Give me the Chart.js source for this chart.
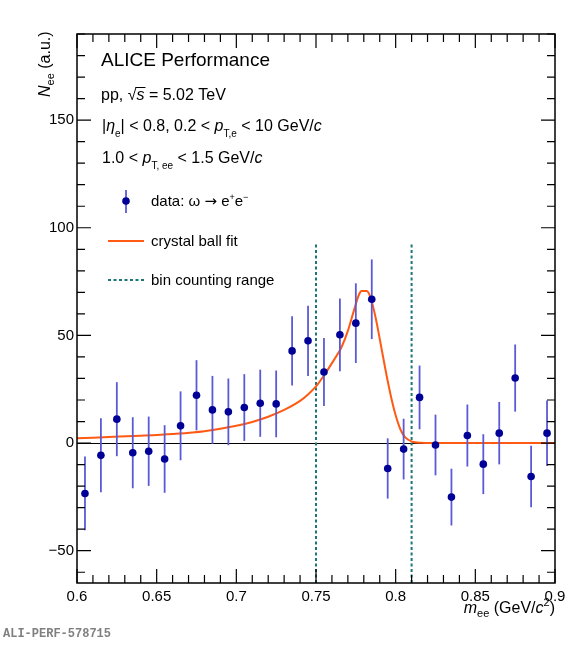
<!DOCTYPE html>
<html>
<head>
<meta charset="utf-8">
<script src="https://cdn.jsdelivr.net/npm/chart.js@4.4.1/dist/chart.umd.min.js"></script>
<style>
  html, body { margin: 0; padding: 0; background: #fff; }
  #c { display: block; }
</style>
</head>
<body>
<canvas id="c" width="586" height="650"></canvas>
<script>
// Chart.js comes from the CDN as the global `Chart`.

// ---- data ----
const binCenters = [0.605, 0.615, 0.625, 0.635, 0.645, 0.655, 0.665, 0.675, 0.685, 0.695,
                    0.705, 0.715, 0.725, 0.735, 0.745, 0.755, 0.765, 0.775, 0.785, 0.795,
                    0.805, 0.815, 0.825, 0.835, 0.845, 0.855, 0.865, 0.875, 0.885, 0.895];
const counts = [-23.4, -5.7, 11.1, -4.5, -3.8, -7.4, 8.0, 22.2, 15.4, 14.5,
                16.5, 18.5, 18.2, 42.8, 47.5, 33.0, 50.3, 55.7, 66.8, -11.8,
                -2.8, 21.2, -0.9, -25.1, 3.5, -9.8, 4.6, 30.2, -15.5, 4.6];
const errors = [17.1, 17.2, 17.2, 16.5, 16.1, 15.7, 16.0, 16.3, 15.8, 15.5,
                15.5, 15.6, 15.5, 16.1, 16.3, 15.8, 16.9, 18.5, 18.5, 14.0,
                14.1, 14.8, 14.1, 13.2, 14.4, 13.9, 14.5, 15.6, 14.3, 15.2];

// crystal ball fit, sampled from the drawn curve
const fitX = [0.600, 0.620, 0.640, 0.660, 0.680, 0.700, 0.710, 0.720, 0.730, 0.740,
              0.745, 0.750, 0.755, 0.761, 0.766, 0.770, 0.774, 0.777, 0.7786, 0.7818,
              0.7843, 0.7874, 0.7906, 0.7937, 0.7969, 0.800, 0.803, 0.806, 0.8105, 0.816,
              0.822, 0.900];
const fitY = [2.2, 2.8, 3.4, 4.2, 5.5, 8.0, 9.8, 12.2, 15.4, 19.6,
              22.6, 26.3, 31.4, 38.3, 44.5, 52.1, 62.1, 69.0, 70.6, 70.6,
              67.5, 58.3, 46.0, 33.7, 22.1, 12.9, 6.3, 2.6, 0.6, 0.1,
              0.0, 0.0];

// bin counting range
const rangeEdges = [0.75, 0.81];
const rangeTop = 93;

// axes
const xMin = 0.6, xMax = 0.9;
const yMin = -65, yMax = 190;
const xTicks = [0.6, 0.65, 0.7, 0.75, 0.8, 0.85, 0.9];
const xTickLabels = ['0.6', '0.65', '0.7', '0.75', '0.8', '0.85', '0.9'];
const yTicks = [-50, 0, 50, 100, 150];
const yTickLabels = ['\u221250', '0', '50', '100', '150'];

const FONT = '"Liberation Sans", Arial, Helvetica, sans-serif';
const MARKER = '#000096';
const ERRBAR = '#5a5ad8';
const ORANGE = '#ff5a14';
const TEAL = '#1c7676';

// draw a row of text pieces: [text, size, italic, dy, family]
function drawRuns(ctx, x, y, parts, align) {
  const fontOf = p => (p[2] ? 'italic ' : '') + p[1] + 'px ' + (p[4] || FONT);
  let w = 0;
  parts.forEach(p => { ctx.font = fontOf(p); w += ctx.measureText(p[0]).width; });
  let cx = align === 'right' ? x - w : x;
  ctx.textAlign = 'left';
  ctx.textBaseline = 'alphabetic';
  parts.forEach(p => {
    ctx.font = fontOf(p);
    ctx.fillText(p[0], cx, y + (p[3] || 0));
    cx += ctx.measureText(p[0]).width;
  });
  return cx;
}

// zero line + error bars under the markers
const errorBars = {
  id: 'errorBars',
  beforeDatasetsDraw(chart) {
    const { ctx, chartArea: a, scales: { y } } = chart;
    ctx.save();
    ctx.strokeStyle = '#000';
    ctx.lineWidth = 1;
    ctx.beginPath();
    ctx.moveTo(a.left, Math.round(y.getPixelForValue(0)) + 0.5);
    ctx.lineTo(a.right, Math.round(y.getPixelForValue(0)) + 0.5);
    ctx.stroke();
    ctx.restore();
  },
  beforeDatasetDraw(chart, args) {
    if (args.index !== 0) return;
    const { ctx, scales: { x, y } } = chart;
    ctx.save();
    ctx.strokeStyle = ERRBAR;
    ctx.lineWidth = 1.8;
    binCenters.forEach((c, i) => {
      const px = x.getPixelForValue(c);
      ctx.beginPath();
      ctx.moveTo(px, y.getPixelForValue(counts[i] - errors[i]));
      ctx.lineTo(px, y.getPixelForValue(counts[i] + errors[i]));
      ctx.stroke();
    });
    ctx.restore();
  }
};

// ROOT style frame with inward ticks, and all the labels
const frameAndText = {
  id: 'frameAndText',
  afterDraw(chart) {
    const { ctx, chartArea: a, scales: { x, y } } = chart;
    ctx.save();
    ctx.strokeStyle = '#000';
    ctx.lineWidth = 1.2;
    ctx.beginPath();
    for (let i = 0; i <= 30; i++) {
      const px = x.getPixelForValue(xMin + i * 0.01);
      const len = i % 5 === 0 ? 14 : 8;
      ctx.moveTo(px, a.bottom); ctx.lineTo(px, a.bottom - len);
      ctx.moveTo(px, a.top); ctx.lineTo(px, a.top + len);
    }
    for (let v = -60; v <= 190; v += 10) {
      const py = y.getPixelForValue(v);
      const len = v % 50 === 0 ? 14 : 8;
      ctx.moveTo(a.left, py); ctx.lineTo(a.left + len, py);
      ctx.moveTo(a.right, py); ctx.lineTo(a.right - len, py);
    }
    ctx.stroke();
    ctx.lineWidth = 1.5;
    ctx.strokeRect(a.left, a.top, a.right - a.left, a.bottom - a.top);

    ctx.fillStyle = '#000';
    // header
    drawRuns(ctx, 101, 66, [['ALICE Performance', 19]]);
    let x1 = drawRuns(ctx, 101, 100, [['pp, ', 16]]);
    let x2 = drawRuns(ctx, x1, 100, [['\u221a', 16]]);
    let x3 = drawRuns(ctx, x2, 100, [['s', 16, true]]);
    ctx.lineWidth = 1;
    ctx.beginPath();
    ctx.moveTo(x2 - 1, 87.5); ctx.lineTo(x3 + 1, 87.5);
    ctx.stroke();
    drawRuns(ctx, x3, 100, [[' = 5.02 TeV', 16]]);
    drawRuns(ctx, 102, 131, [
      ['|', 16], ['\u03b7', 16, true], ['e', 10, false, 6], ['|', 16],
      [' < 0.8, 0.2 < ', 16], ['p', 16, true], ['T,e', 10, false, 6],
      [' < 10 GeV/', 16], ['c', 16, true]
    ]);
    drawRuns(ctx, 102, 163, [
      ['1.0 < ', 16], ['p', 16, true], ['T, ee', 10, false, 6],
      [' < 1.5 GeV/', 16], ['c', 16, true]
    ]);

    // legend
    ctx.strokeStyle = ERRBAR;
    ctx.lineWidth = 1.8;
    ctx.beginPath(); ctx.moveTo(126, 190); ctx.lineTo(126, 213); ctx.stroke();
    ctx.fillStyle = MARKER;
    ctx.beginPath(); ctx.arc(126, 201, 3.8, 0, Math.PI * 2); ctx.fill();
    ctx.fillStyle = '#000';
    drawRuns(ctx, 151, 206, [
      ['data: \u03c9 ', 15], ['\u2192', 15, false, 0, '"DejaVu Sans", sans-serif'], [' e', 15],
      ['+', 9, false, -6], ['e', 15], ['\u2212', 9, false, -6]
    ]);
    ctx.strokeStyle = ORANGE;
    ctx.lineWidth = 2;
    ctx.beginPath(); ctx.moveTo(108, 241); ctx.lineTo(144, 241); ctx.stroke();
    drawRuns(ctx, 151, 246, [['crystal ball fit', 15]]);
    ctx.strokeStyle = TEAL;
    ctx.setLineDash([3, 2.5]);
    ctx.beginPath(); ctx.moveTo(108, 280); ctx.lineTo(144, 280); ctx.stroke();
    ctx.setLineDash([]);
    drawRuns(ctx, 151, 285, [['bin counting range', 15]]);

    // axis titles
    drawRuns(ctx, a.right, 613, [
      ['m', 16, true], ['ee', 11, false, 4], [' (GeV/', 16], ['c', 16, true],
      ['2', 11, false, -7], [')', 16]
    ], 'right');
    ctx.save();
    ctx.translate(50, 97);
    ctx.rotate(-Math.PI / 2);
    drawRuns(ctx, 0, 0, [['N', 16, true], ['ee', 11, false, 4], [' (a.u.)', 16]]);
    ctx.restore();

    ctx.fillStyle = '#808080';
    ctx.font = 'bold 12px "Liberation Mono", "DejaVu Sans Mono", monospace';
    ctx.textAlign = 'left';
    ctx.fillText('ALI-PERF-578715', 3, 637);
    ctx.restore();
  }
};

const rangeLines = rangeEdges.map(e => ({
  type: 'line',
  data: [{ x: e, y: yMin }, { x: e, y: rangeTop }],
  borderColor: TEAL,
  borderWidth: 2,
  borderDash: [3, 2.5],
  pointRadius: 0,
  order: 3
}));

new Chart(document.getElementById('c'), {
  type: 'scatter',
  data: {
    datasets: [
      {
        label: 'data',
        data: binCenters.map((c, i) => ({ x: c, y: counts[i] })),
        backgroundColor: MARKER,
        borderColor: MARKER,
        pointRadius: 3.8,
        pointBorderWidth: 0,
        order: 1
      },
      {
        type: 'line',
        label: 'crystal ball fit',
        data: fitX.map((v, i) => ({ x: v, y: fitY[i] })),
        borderColor: ORANGE,
        borderWidth: 2,
        pointRadius: 0,
        cubicInterpolationMode: 'monotone',
        order: 2
      },
      ...rangeLines
    ]
  },
  options: {
    responsive: false,
    animation: false,
    layout: { padding: { top: 34, right: 31, left: 0, bottom: 0 } },
    plugins: { legend: { display: false }, tooltip: { enabled: false } },
    scales: {
      x: {
        type: 'linear',
        min: xMin, max: xMax,
        afterBuildTicks: s => { s.ticks = xTicks.map(v => ({ value: v })); },
        afterFit: s => { s.height = 67; },
        grid: { display: false, drawTicks: false },
        border: { display: false },
        ticks: {
          padding: 5,
          color: '#000',
          font: { family: FONT, size: 15 },
          maxRotation: 0,
          autoSkip: false,
          callback: (v, i) => xTickLabels[i]
        }
      },
      y: {
        type: 'linear',
        min: yMin, max: yMax,
        afterBuildTicks: s => { s.ticks = yTicks.map(v => ({ value: v })); },
        afterFit: s => { s.width = 77; },
        grid: { display: false, drawTicks: false },
        border: { display: false },
        ticks: {
          padding: 3,
          color: '#000',
          font: { family: FONT, size: 15 },
          autoSkip: false,
          callback: (v, i) => yTickLabels[i]
        }
      }
    }
  },
  plugins: [errorBars, frameAndText]
});
</script>
</body>
</html>
